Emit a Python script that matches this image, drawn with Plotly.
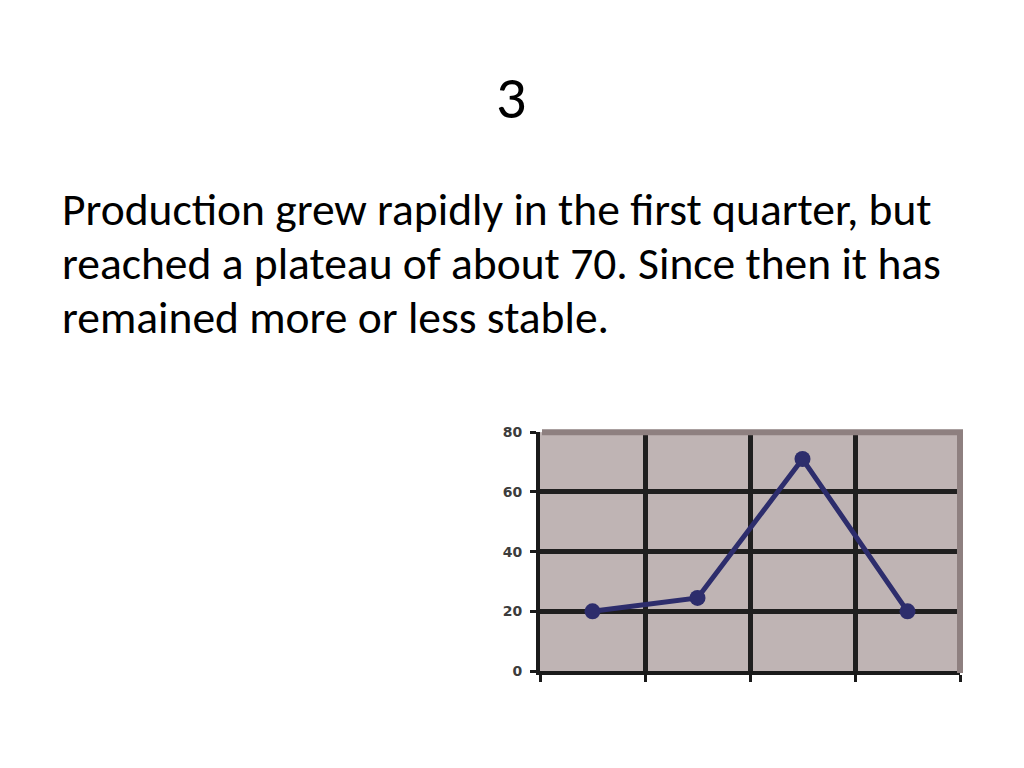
import plotly.graph_objects as go

# ---------------------------------------------------------------
# data
quarters = ["Q1", "Q2", "Q3", "Q4"]
production = [20, 24.5, 71, 20]
y_ticks = [0, 20, 40, 60, 80]

slide_title = "3"
body_lines = [
    "Production grew rapidly in the first quarter, but",
    "reached a plateau of about 70. Since then it has",
    "remained more or less stable.",
]

W, H = 1024, 768
OFF = 8  # page body margin the browser adds
x_dom = [(540 - OFF) / W, (960 - OFF) / W]
y_dom = [1 - (677 - OFF) / H, 1 - (433 - OFF) / H]

fig = go.Figure()
fig.add_trace(go.Scatter(
    x=quarters, y=production,
    mode="lines+markers",
    line=dict(color="#2d2d6c", width=5),
    marker=dict(color="#2d2d6c", size=16, symbol="circle"),
    showlegend=False, hoverinfo="x+y",
))

fig.update_xaxes(
    domain=x_dom, type="category", range=[-0.5, 3.5],
    tickson="boundaries", showticklabels=False,
    ticks="outside", ticklen=7, tickwidth=3, tickcolor="#1a1a1a",
    showgrid=True, gridcolor="#1f1f1f", gridwidth=5,
    showline=True, linecolor="#1a1a1a", linewidth=4,
    zeroline=False, fixedrange=True,
)
fig.update_yaxes(
    domain=y_dom, range=[0, 80], tickvals=y_ticks,
    ticks="outside", ticklen=6, tickwidth=3, tickcolor="#1a1a1a",
    ticklabelstandoff=5,
    tickfont=dict(family="DejaVu Sans", size=14, color="#3c3c3c", weight="bold"),
    showgrid=True, gridcolor="#1f1f1f", gridwidth=5,
    showline=True, linecolor="#1a1a1a", linewidth=4,
    zeroline=False, fixedrange=True,
)

# grey frame on top / right of the plot area (old Excel look)
frame = "#8e8080"
fig.add_shape(type="line", xref="paper", yref="paper",
              x0=x_dom[0] + 2 / W, x1=x_dom[1] + 3 / W, y0=y_dom[1], y1=y_dom[1],
              line=dict(color=frame, width=6), layer="above")
fig.add_shape(type="line", xref="paper", yref="paper",
              x0=x_dom[1], x1=x_dom[1], y0=y_dom[0] - 2 / H, y1=y_dom[1],
              line=dict(color=frame, width=6), layer="above")

# slide text
fig.add_annotation(text=slide_title, xref="paper", yref="paper",
                   x=(511 - OFF) / W, y=1 - (91 - OFF) / H,
                   xanchor="center", yanchor="middle", showarrow=False,
                   font=dict(family="Carlito, Lato", size=60, color="black"))
for i, line in enumerate(body_lines):
    fig.add_annotation(text=line, xref="paper", yref="paper",
                       x=(60 - OFF) / W, y=1 - (206 + 55 * i - OFF) / H,
                       xanchor="left", yanchor="middle", showarrow=False,
                       font=dict(family="Carlito, Lato", size=45.5, color="black"))

fig.update_layout(
    width=W, height=H,
    margin=dict(l=0, r=0, t=0, b=0),
    paper_bgcolor="white", plot_bgcolor="#bfb4b4",
)

fig.write_html("out.html")
